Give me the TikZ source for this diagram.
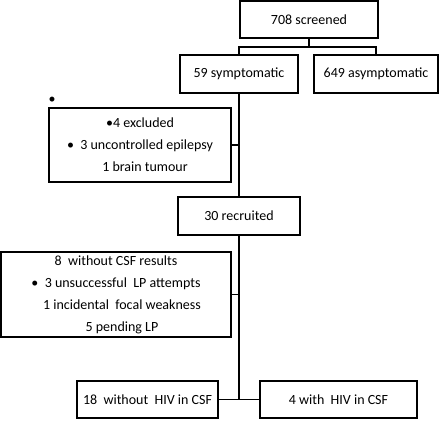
\documentclass[tikz,border=0pt]{standalone}
\usepackage{fontspec}
\setmainfont{Carlito}
\begin{document}
\begin{tikzpicture}[x=1pt,y=-1pt,
  box/.style={draw=black,line width=1.1pt,inner sep=0pt,align=center,font=\fontsize{14}{22}\selectfont},
  conn/.style={draw=black,line width=1.1pt},
  lbl/.style={inner sep=0pt,font=\fontsize{14}{22}\selectfont}]
\useasboundingbox (0,0) rectangle (440,421);
\node[box,minimum width=138pt,minimum height=37pt] (scr) at (309,19.5) {708 screened};
\node[box,minimum width=118pt,minimum height=38pt] (sym) at (239,74) {59 symptomatic};
\node[box,minimum width=124pt,minimum height=38pt] (asym) at (376,74) {649 asymptomatic};
\node[lbl] (dot) at (52,100) {•};
\node[box,minimum width=182pt,minimum height=74pt] (excl) at (140,145) {•4 excluded\\•\ \ 3 uncontrolled epilepsy\\\hspace*{10pt}1 brain tumour};
\node[box,minimum width=122pt,minimum height=38pt] (rec) at (239,216) {30 recruited};
\node[box,minimum width=230pt,minimum height=85pt] (csf) at (116,294.5) {8\ \ without CSF results\\•\ \ 3 unsuccessful\ \ LP attempts\\\hspace*{12pt}1 incidental\ \ focal weakness\\\hspace*{12pt}5 pending LP};
\node[box,minimum width=141pt,minimum height=37pt] (neg) at (147.5,399.5) {18\ \ without\ \ HIV in CSF};
\node[box,minimum width=157pt,minimum height=37pt] (pos) at (338.5,399.5) {4 with\ \ HIV in CSF};
\coordinate (j1) at (309,47);
\draw[conn] (scr.south) -- (j1);
\draw[conn] (sym.north) |- (j1) -| (asym.north);
\draw[conn] (sym.south) -- (rec.north);
\draw[conn] (excl.east) -- (sym.south |- excl.east);
\draw[conn] (rec.south) -- (rec.south |- neg.east);
\draw[conn] (neg.east) -- (pos.west);
\draw[conn] (csf.east) -- (rec.south |- csf.east);
\end{tikzpicture}
\end{document}
